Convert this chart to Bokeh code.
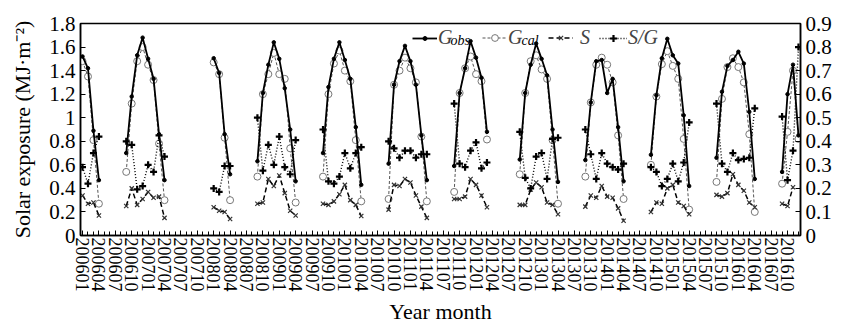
import numpy as np
from bokeh.plotting import figure
from bokeh.models import (Range1d, LinearAxis, FixedTicker, PrintfTickFormatter,
                          Legend, LegendItem, Label, ColumnDataSource)
from bokeh.core.properties import value
from bokeh.embed import file_html
from bokeh.resources import INLINE

# ---------------- data ----------------
months = [
    200601, 200602, 200603, 200604,
    200609, 200610, 200611, 200612, 200701, 200702, 200703, 200704,
    200801, 200802, 200803, 200804,
    200809, 200810, 200811, 200812, 200901, 200902, 200903, 200904,
    200909, 200910, 200911, 200912, 201001, 201002, 201003, 201004,
    201009, 201010, 201011, 201012, 201101, 201102, 201103, 201104,
    201109, 201110, 201111, 201112, 201201, 201202, 201203,
    201209, 201210, 201211, 201212, 201301, 201302, 201303, 201304,
    201309, 201310, 201311, 201312, 201401, 201402, 201403, 201404,
    201409, 201410, 201411, 201412, 201501, 201502, 201503, 201504,
    201509, 201510, 201511, 201512, 201601, 201602, 201603, 201604,
    201609, 201610, 201611, 201612,
]

g_obs = [
    1.52, 1.42, 0.89, 0.47,
    0.70, 1.18, 1.53, 1.68, 1.50, 1.33, 0.86, 0.47,
    1.505, 1.38, 0.86, 0.52,
    0.63, 1.21, 1.45, 1.64, 1.50, 1.25, 0.90, 0.46,
    0.70, 1.26, 1.50, 1.64, 1.49, 1.33, 0.92, 0.43,
    0.61, 1.28, 1.48, 1.61, 1.48, 1.28, 0.85, 0.47,
    0.59, 1.21, 1.42, 1.65, 1.51, 1.34, 0.88,
    0.645, 1.21, 1.45, 1.63, 1.50, 1.36, 0.90, 0.455,
    0.64, 1.13, 1.48, 1.49, 1.21, 1.33, 0.92, 0.46,
    0.685, 1.19, 1.505, 1.67, 1.53, 1.46, 1.02, 0.42,
    0.66, 1.22, 1.44, 1.49, 1.56, 1.46, 1.05, 0.48,
    0.54, 1.20, 1.45, 0.85,
]

g_cal = [
    1.48, 1.35, 0.81, 0.27,
    0.54, 1.12, 1.48, 1.60, 1.45, 1.32, 0.78, 0.30,
    1.47, 1.37, 0.83, 0.30,
    0.50, 1.20, 1.37, 1.55, 1.37, 1.33, 0.74, 0.28,
    0.50, 1.20, 1.46, 1.57, 1.40, 1.31, 0.81, 0.29,
    0.31, 1.28, 1.40, 1.51, 1.42, 1.30, 0.84, 0.29,
    0.37, 1.21, 1.42, 1.52, 1.37, 1.31, 0.815,
    0.52, 1.21, 1.48, 1.53, 1.41, 1.33, 0.81, 0.27,
    0.50, 1.13, 1.45, 1.51, 1.45, 1.30, 0.85, 0.31,
    0.60, 1.18, 1.455, 1.565, 1.44, 1.33, 0.82, 0.22,
    0.455, 1.16, 1.43, 1.505, 1.43, 1.30, 0.86, 0.20,
    0.44, 0.88, 1.40, 0.82,
]

s_diff = [
    0.34, 0.27, 0.28, 0.17,
    0.25, 0.40, 0.26, 0.31, 0.37, 0.32, 0.33, 0.15,
    0.24, 0.21, 0.20, 0.14,
    0.27, 0.28, 0.48, 0.42, 0.51, 0.36, 0.21, 0.17,
    0.27, 0.26, 0.29, 0.35, 0.43, 0.30, 0.26, 0.165,
    0.22, 0.43, 0.42, 0.48, 0.45, 0.34, 0.245, 0.15,
    0.31, 0.31, 0.33, 0.48, 0.43, 0.34, 0.24,
    0.26, 0.26, 0.39, 0.45, 0.41, 0.28, 0.26, 0.18,
    0.245, 0.34, 0.32, 0.42, 0.33, 0.32, 0.23, 0.125,
    0.20, 0.28, 0.27, 0.40, 0.43, 0.28, 0.25, 0.18,
    0.345, 0.33, 0.36, 0.52, 0.43, 0.38, 0.28, 0.24,
    0.27, 0.25, 0.41, float("nan"),
]

s_over_g = [
    0.29, 0.22, 0.35, 0.42,
    0.40, 0.385, 0.196, 0.21, 0.30, 0.27, 0.425, 0.335,
    0.20, 0.185, 0.295, 0.295,
    0.50, 0.275, 0.385, 0.30, 0.42, 0.29, 0.26, 0.405,
    0.45, 0.23, 0.22, 0.25, 0.35, 0.285, 0.35, 0.375,
    0.40, 0.37, 0.33, 0.36, 0.36, 0.33, 0.345, 0.345,
    0.56, 0.305, 0.29, 0.36, 0.395, 0.285, 0.31,
    0.44, 0.245, 0.20, 0.335, 0.35, 0.24, 0.41, 0.415,
    0.45, 0.345, 0.24, 0.35, 0.305, 0.29, 0.28, 0.305,
    0.29, 0.27, 0.21, 0.24, 0.305, 0.23, 0.31, 0.48,
    0.56, 0.305, 0.27, 0.35, 0.32, 0.325, 0.33, 0.54,
    0.505, 0.235, 0.36, 0.80,
]

tick_labels = [
    "200601", "200604", "200607", "200610", "200701", "200704", "200707", "200710",
    "200801", "200804", "200807", "200810", "200901", "200904", "200907", "200910",
    "201001", "201004", "201007", "201010", "201101", "201104", "201107", "201110",
    "201201", "201204", "201207", "201210", "201301", "201304", "201307", "201310",
    "201401", "201404", "201407", "201410", "201501", "201504", "201507", "201510",
    "201601", "201604", "201607", "201610",
]
left_ticks = [0, 0.2, 0.4, 0.6, 0.8, 1.0, 1.2, 1.4, 1.6, 1.8]
right_ticks = [0, 0.1, 0.2, 0.3, 0.4, 0.5, 0.6, 0.7, 0.8, 0.9]

# ---------------- processing ----------------
FIRST_YEAR = int(tick_labels[0][:4])


def month_index(m):
    m = int(m)
    return (m // 100 - FIRST_YEAR) * 12 + (m % 100 - 1)


n_months = month_index(max(months)) + 1


def full(series):
    arr = np.full(n_months, np.nan)
    for m, v in zip(months, series):
        arr[month_index(m)] = v
    return arr


src = ColumnDataSource(dict(
    x=np.arange(n_months),
    g_obs=full(g_obs), g_cal=full(g_cal), s=full(s_diff), sg=full(s_over_g),
))

FONT = "Liberation Serif"

p = figure(width=860, height=326, output_backend="svg", toolbar_location=None,
           x_range=Range1d(-0.37, n_months - 0.63), y_range=Range1d(0, 1.8),
           min_border_left=80, min_border_right=60, min_border_top=23,
           min_border_bottom=86)
p.extra_y_ranges = {"sg": Range1d(0, 0.9)}
p.grid.visible = False
p.outline_line_color = "black"
p.outline_line_width = 1.5
p.background_fill_color = "white"
p.border_fill_color = "white"

# ---------------- series ----------------
cal_line = p.line("x", "g_cal", source=src, line_color="#555555", line_width=1,
                  line_dash="3 2")
cal_pts = p.scatter("x", "g_cal", source=src, marker="circle", size=7,
                    line_color="#777777", fill_color="white", line_width=1)
s_line = p.line("x", "s", source=src, line_color="black", line_width=1.5,
                line_dash="5 3")
s_pts = p.scatter("x", "s", source=src, marker="x", size=6, line_color="#333333",
                  line_width=1.2)
sg_line = p.line("x", "sg", source=src, y_range_name="sg", line_color="black",
                 line_width=1.4, line_dash="1 2")
sg_pts = p.scatter("x", "sg", source=src, y_range_name="sg", marker="cross",
                   size=7, line_color="black", line_width=2.2)
obs_line = p.line("x", "g_obs", source=src, line_color="black", line_width=1.8)
obs_pts = p.scatter("x", "g_obs", source=src, marker="circle", size=3.5,
                    fill_color="black", line_color="black")

# ---------------- axes ----------------
tick_pos = [month_index(t) for t in tick_labels]
xa = p.xaxis[0]
xa.ticker = FixedTicker(ticks=tick_pos, minor_ticks=list(range(n_months)))
xa.major_label_overrides = {tp: lab for tp, lab in zip(tick_pos, tick_labels)}
xa.major_label_orientation = "vertical"
xa.axis_label = "Year month"

ya = p.yaxis[0]
ya.ticker = FixedTicker(ticks=left_ticks, minor_ticks=[])
ya.formatter = PrintfTickFormatter(format="%g")
ya.axis_label = "Solar exposure (MJ·m⁻²)"

ra = LinearAxis(y_range_name="sg", ticker=FixedTicker(ticks=right_ticks, minor_ticks=[]),
                formatter=PrintfTickFormatter(format="%g"))
p.add_layout(ra, "right")

for ax in (xa, ya, ra):
    ax.axis_line_color = "black"
    ax.axis_line_width = 1.5
    ax.major_tick_line_color = "black"
    ax.minor_tick_line_color = "black"
    ax.major_tick_in = 5
    ax.major_tick_out = 0
    ax.minor_tick_in = 4
    ax.minor_tick_out = 0
    ax.major_label_text_font = FONT
    ax.major_label_text_color = "black"
    ax.axis_label_text_font = FONT
    ax.axis_label_text_font_style = "normal"
    ax.axis_label_text_color = "black"

xa.major_label_text_font_size = "18px"
xa.major_label_standoff = 2
xa.axis_label_text_font_size = "22px"
xa.axis_label_standoff = 4
ya.major_label_text_font_size = "21px"
ya.major_label_standoff = 5
ya.axis_label_text_font_size = "22px"
ya.axis_label_standoff = 11
ra.major_label_text_font_size = "21px"
ra.major_label_standoff = 5

p.add_layout(Label(x=767, y=146, x_units="screen", y_units="screen", text="S/G",
                   angle=np.pi / 2, text_align="center", text_baseline="middle",
                   text_font=FONT, text_font_size="22px", text_color="black"))

# ---------------- legend ----------------
LEG_Y = 186


def add_legend(renderers, label, x, standoff, gw=25, gh=20):
    lg = Legend(items=[LegendItem(label=value(label), renderers=renderers)],
                location=(x, LEG_Y), orientation="horizontal", glyph_width=gw,
                glyph_height=gh, label_standoff=standoff, padding=0, margin=0,
                spacing=0, border_line_alpha=0, background_fill_alpha=0,
                label_text_font=FONT, label_text_font_style="italic",
                label_text_font_size="20px", label_height=20)
    p.add_layout(lg)


add_legend([obs_line, obs_pts], "G", 332, 1, gh=10)
add_legend([cal_line, cal_pts], "G", 402, 1, gh=17)
add_legend([s_line, s_pts], "S", 468, 7, gh=15)
add_legend([sg_line, sg_pts], "S/G", 519, 1, gw=28, gh=18)

for sx, sub in ((370, "obs"), (441, "cal")):
    p.add_layout(Label(x=sx, y=195, x_units="screen", y_units="screen", text=sub,
                       text_font=FONT, text_font_style="italic",
                       text_font_size="14px", text_baseline="alphabetic",
                       text_color="black"))

open("out.html", "w").write(file_html(p, INLINE))
